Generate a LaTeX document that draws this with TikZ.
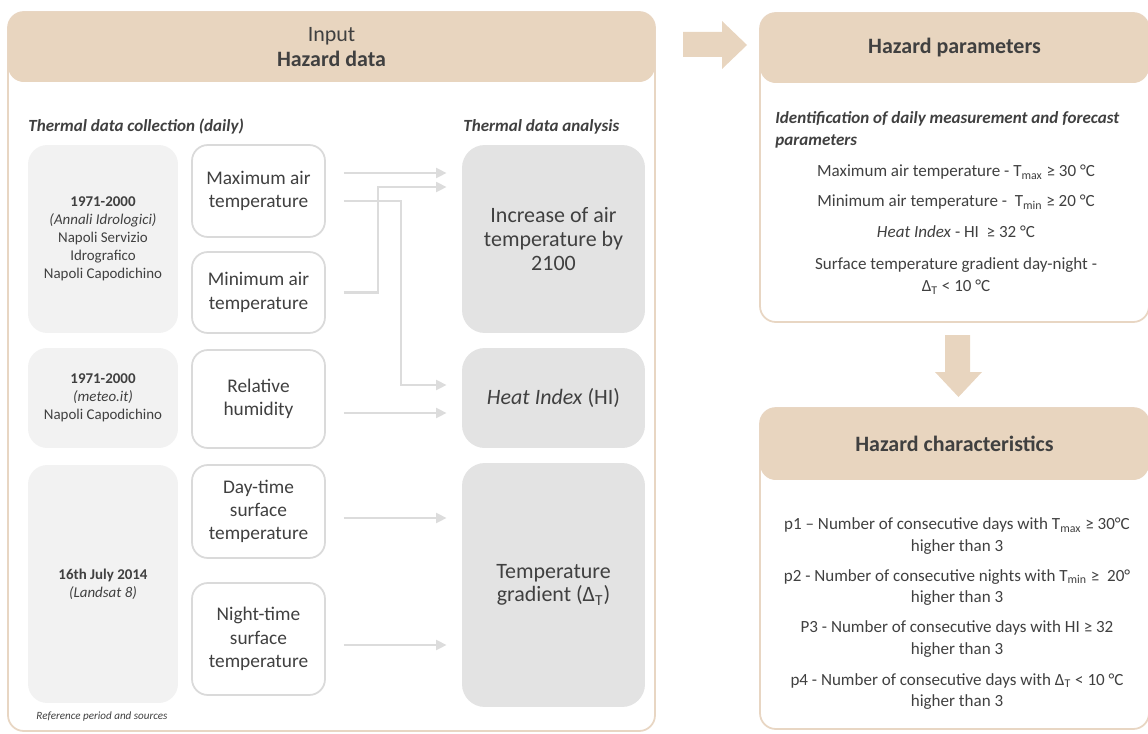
\documentclass[tikz,border=0pt]{standalone}
\usepackage{fontspec}
\setmainfont{Carlito}
\usetikzlibrary{arrows.meta}
\definecolor{tanhead}{HTML}{E8D5BF}
\definecolor{tanline}{HTML}{E8D6C3}
\definecolor{srcgray}{HTML}{F2F2F2}
\definecolor{anagray}{HTML}{E3E3E3}
\definecolor{boxline}{HTML}{DADADA}
\definecolor{flowgray}{HTML}{DCDCDC}
\definecolor{ink}{HTML}{404040}

\begin{document}
\begin{tikzpicture}[x=0.02cm, y=-0.02cm, text=ink,
    panel/.style={draw=tanline, line width=1pt, fill=white, rounded corners=9pt},
    head/.style={fill=tanhead, rounded corners=9pt, minimum height=1.4cm, inner sep=0pt, align=center, font=\fontsize{12.5}{14.2}\selectfont},
    src/.style={fill=srcgray, rounded corners=11pt, minimum width=3cm, inner sep=0pt, align=center, font=\fontsize{8.5}{10.2}\selectfont},
    var/.style={draw=boxline, line width=1pt, fill=white, rounded corners=9pt, minimum width=2.66cm, inner sep=0pt, align=center, font=\fontsize{11}{13.3}\selectfont},
    ana/.style={fill=anagray, rounded corners=13pt, minimum width=3.66cm, inner sep=0pt, align=center, font=\fontsize{12.5}{13.4}\selectfont},
    flow/.style={draw=flowgray, line width=1.5pt, -{Triangle[length=6pt,width=5.5pt]}, shorten <=0.36cm, shorten >=0.3cm},
    subhead/.style={anchor=west, inner sep=0pt, font=\fontsize{9.7}{11}\selectfont\bfseries\itshape},
    item/.style={align=center, font=\fontsize{9.7}{12.4}\selectfont}]
    \useasboundingbox (0,0) rectangle (1148,733);

    % input panel
    \draw[panel] (8,12) rectangle (655,731);
    \node[head, minimum width=12.94cm] (inhead) at (331.5,47) {Input\\\textbf{Hazard data}};
    \node[subhead] (colltitle) at (28,127) {Thermal data collection (daily)};
    \node[subhead] (anatitle) at (463,127) {Thermal data analysis};

    % sources
    \node[src, minimum height=3.76cm] (src1) at (103,239) {\textbf{1971-2000}\\\textit{(Annali Idrologici)}\\Napoli Servizio\\Idrografico\\Napoli Capodichino};
    \node[src, minimum height=2cm] (src2) at (103,398) {\textbf{1971-2000}\\\textit{(meteo.it)}\\Napoli Capodichino};
    \node[src, minimum height=4.76cm] (src3) at (103,584) {\textbf{16th July 2014}\\\textit{(Landsat 8)}};
    \node[font=\fontsize{6.3}{7}\selectfont\itshape] (srcnote) at (102,717) {Reference period and sources};

    % variables
    \node[var, minimum height=1.84cm] (tmax) at (258.5,191) {Maximum air\\temperature};
    \node[var, minimum height=1.62cm] (tmin) at (258.5,292.5) {Minimum air\\temperature};
    \node[var, minimum height=1.96cm] (rh) at (258.5,399) {Relative\\humidity};
    \node[var, minimum height=1.86cm] (tday) at (258.5,511.5) {Day-time\\surface\\temperature};
    \node[var, minimum height=2.24cm] (tnight) at (258.5,639) {Night-time\\surface\\temperature};

    % analysis
    \node[ana, minimum height=3.76cm] (incr) at (553.5,239) {Increase of air\\temperature by\\2100};
    \node[ana, minimum height=2cm] (hi) at (553.5,398) {\textit{Heat Index} (HI)};
    \node[ana, minimum height=4.88cm] (grad) at (553.5,585) {Temperature\\gradient (Δ\textsubscript{T})};

    \draw[flow] ([yshift=0.36cm]tmax.east) -- ([yshift=0.36cm]tmax.east -| incr.west);
    \draw[flow] (tmin.east) -- ++(52,0) |- ([yshift=1.04cm]incr.west);
    \draw[flow] ([yshift=-0.2cm]tmax.east) -- ++(75,0) |- ([yshift=0.26cm]hi.west);
    \draw[flow] ([yshift=-0.28cm]rh.east) -- ([yshift=-0.28cm]rh.east -| hi.west);
    \draw[flow] ([yshift=-0.13cm]tday.east) -- ([yshift=-0.13cm]tday.east -| grad.west);
    \draw[flow] ([yshift=-0.12cm]tnight.east) -- ([yshift=-0.12cm]tnight.east -| grad.west);

    % big arrows
    \fill[tanhead] (683,32) -- (722,32) -- (722,21) -- (747,45) -- (722,69) -- (722,57) -- (683,57) -- cycle;
    \fill[tanhead] (945,335) -- (970,335) -- (970,372) -- (982,372) -- (958.5,397) -- (935,372) -- (945,372) -- cycle;

    % hazard parameters
    \draw[panel] (760,13) rectangle (1149,322);
    \node[head, minimum width=7.78cm, font=\fontsize{12.5}{14}\selectfont\bfseries] (parhead) at (954.5,48) {Hazard parameters};
    \node[anchor=north west, align=left, inner sep=0pt, font=\fontsize{9.7}{12.4}\selectfont\bfseries\itshape] (idtext) at (775,111) {Identification of daily measurement and forecast\\parameters};
    \node[item] (ptmax) at (956,172) {Maximum air temperature - T\textsubscript{max} ≥ 30 °C};
    \node[item] (ptmin) at (956,202) {Minimum air temperature -~~T\textsubscript{min} ≥ 20 °C};
    \node[item] (phi) at (956,232) {\textit{Heat Index} - HI~~≥ 32 °C};
    \node[item] (pgrad) at (956,276) {Surface temperature gradient day-night -\\Δ\textsubscript{T} < 10 °C};

    % hazard characteristics
    \draw[panel] (760,408) rectangle (1149,729);
    \node[head, minimum width=7.78cm, minimum height=1.44cm, font=\fontsize{12.5}{14}\selectfont\bfseries] (charhead) at (954.5,444) {Hazard characteristics};
    \node[item] (p1) at (957,536) {p1 – Number of consecutive days with T\textsubscript{max} ≥ 30°C\\higher than 3};
    \node[item] (p2) at (957,587.5) {p2 - Number of consecutive nights with T\textsubscript{min} ≥~~20°\\higher than 3};
    \node[item] (p3) at (957,639) {P3 - Number of consecutive days with HI ≥ 32\\higher than 3};
    \node[item] (p4) at (957,691.5) {p4 - Number of consecutive days with Δ\textsubscript{T} < 10 °C\\higher than 3};
\end{tikzpicture}
\end{document}
